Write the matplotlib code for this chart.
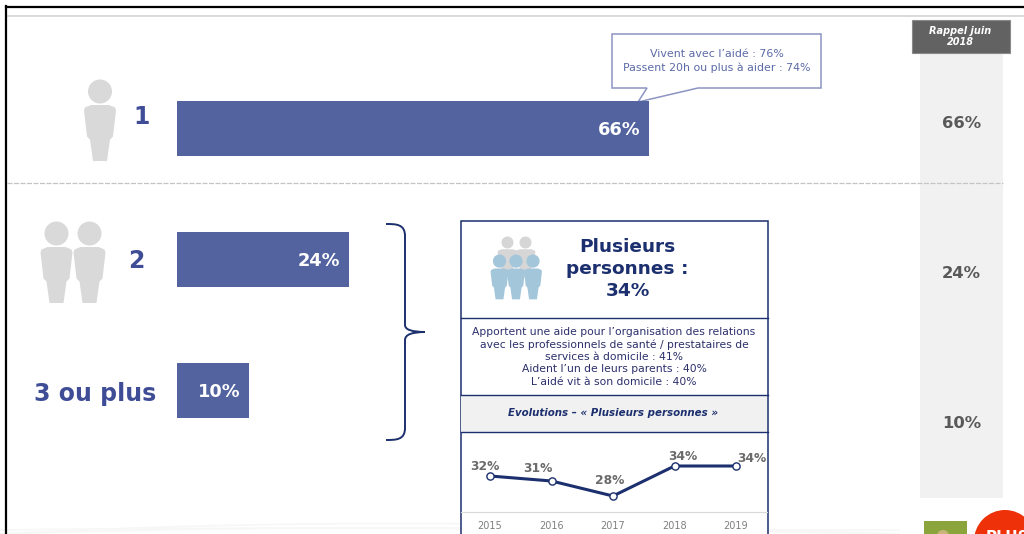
import matplotlib
matplotlib.use("Agg")
import matplotlib.pyplot as plt
from matplotlib.patches import Polygon, Circle, Rectangle, PathPatch
from matplotlib.path import Path

W, H = 1024, 534

# data
groups = ["1", "2", "3 ou plus"]
shares = [66, 24, 10]
rappel = ["66%", "24%", "10%"]
years = [2015, 2016, 2017, 2018, 2019]
evolution = [32, 31, 28, 34, 34]

BLUE = "#5363a0"
LABEL = "#3f4d96"
NAVY = "#1c2f6e"
GREY = "#595959"
ICON = "#d9d9d9"
ICON_BLUE = "#a3c6da"

fig = plt.figure(figsize=(W / 100, H / 100), dpi=100, facecolor="white")

# whole page axes in pixels, y going down
bg = fig.add_axes([0, 0, 1, 1])
bg.set_xlim(0, W)
bg.set_ylim(H, 0)
bg.axis("off")


def sub_axes(left, top, right, bottom):
    return fig.add_axes([left / W, 1 - bottom / H, (right - left) / W, (bottom - top) / H])


def person(ax, cx, top, s=1.0, color=ICON, z=3, sx=None):
    # little figure: head + tapered body, top is the top of the head
    sx = sx or s
    ax.add_patch(Circle((cx, top + 12 * s), 12 * s, fc=color, ec="none", zorder=z))
    body = [(-15, 28), (-9, 25.5), (9, 25.5), (15, 28), (16, 31), (13, 57), (10, 60), (7, 81.5),
            (-7, 81.5), (-10, 60), (-13, 57), (-16, 31)]
    ax.add_patch(Polygon([(cx + x * sx, top + y * s) for x, y in body], closed=True,
                         fc=color, ec="none", zorder=z))


# faint background swooshes at the bottom
for y0, y1 in [(534, 518), (534, 524), (530, 526)]:
    bg.add_patch(PathPatch(Path([(0, y0), (300, y1), (560, y1 + 4), (900, y0)],
                                [Path.MOVETO, Path.CURVE4, Path.CURVE4, Path.CURVE4]),
                           fc="none", ec="#f7f7f7", lw=1.2, zorder=0))

# frame
bg.plot([6, 6], [6, H], color="black", lw=1.6, zorder=5)
bg.plot([6, W], [6.5, 6.5], color="black", lw=1.6, zorder=5)
bg.plot([7, W], [15.5, 15.5], color="#d4d4d4", lw=1.2, zorder=1)

# rappel column
bg.add_patch(Rectangle((920, 53), 83, 445, fc="#f1f1f1", ec="none", zorder=1))
bg.add_patch(Rectangle((911.5, 19.5), 98, 33, fc="#626262", ec="#8a8a8a", lw=0.8, zorder=2))
bg.text(960.5, 36.5, "Rappel juin\n2018", color="white", fontsize=7, fontstyle="italic",
        fontweight="bold", ha="center", va="center", linespacing=1.2, zorder=3)
for lab, y in zip(rappel, [123, 273, 424]):
    bg.text(961.5, y, lab, color=GREY, fontsize=11.8, fontweight="bold", ha="center", va="center", zorder=3)

# dashed separator
bg.plot([7, 1003], [182.5, 182.5], color="#c4c4c4", lw=0.9, ls=(0, (4, 1.2)), zorder=2)

# bars: one percent = 7.15 px, y stays in pixels
bars_ax = sub_axes(177, 0, 177 + 715, H)
bars_ax.set_xlim(0, 100)
bars_ax.set_ylim(H, 0)
bars_ax.axis("off")
bar_y = [128, 259.5, 390]
bars_ax.barh(bar_y, shares, height=55, color=BLUE, edgecolor="none")
for v, y in zip(shares, bar_y):
    bars_ax.annotate(f"{v}%", (v, y), xytext=(-8, -2), textcoords="offset pixels", color="white",
                     fontsize=12.8, fontweight="bold", ha="right", va="center")

# group labels
bg.text(142, 116.5, groups[0], color=LABEL, fontsize=17, fontweight="bold", ha="center", va="center")
bg.text(136.5, 261, groups[1], color=LABEL, fontsize=17, fontweight="bold", ha="center", va="center")
bg.text(95, 394, groups[2], color=LABEL, fontsize=17, fontweight="bold", ha="center", va="center")

# people
person(bg, 100, 79.5)
person(bg, 56.5, 221.5)
person(bg, 89.5, 221.5)

# callout
bg.add_patch(Polygon([(612, 34), (821, 34), (821, 88), (698, 88), (638, 102), (647, 88), (612, 88)],
                     closed=True, fc="white", ec="#8c94c2", lw=1.1, zorder=4))
bg.text(717, 54, "Vivent avec l’aidé : 76%", color="#5b6aa6", fontsize=7.95, ha="center", va="center", zorder=5)
bg.text(717, 68, "Passent 20h ou plus à aider : 74%", color="#5b6aa6", fontsize=7.95, ha="center", va="center", zorder=5)

# brace
brace = Path([(386, 224), (396, 224), (405, 224), (405, 236), (405, 325), (405, 332), (425, 332),
              (405, 332), (405, 340), (405, 428), (405, 440), (396, 440), (386, 440)],
             [Path.MOVETO, Path.CURVE4, Path.CURVE4, Path.CURVE4, Path.LINETO, Path.CURVE3, Path.CURVE3,
              Path.CURVE3, Path.CURVE3, Path.LINETO, Path.CURVE4, Path.CURVE4, Path.CURVE4])
bg.add_patch(PathPatch(brace, fc="none", ec=NAVY, lw=1.4, zorder=3))

# panel
bg.add_patch(Rectangle((460.5, 221), 307, 320, fc="white", ec=NAVY, lw=1.1, zorder=2))
bg.add_patch(Rectangle((461, 394.5), 306, 38, fc="#f1f1f1", ec="none", zorder=3))
for y in [318, 394.5, 432]:
    bg.plot([460.5, 767.5], [y, y], color=NAVY, lw=1.0, zorder=4)

for cx in [507.5, 525.5]:
    person(bg, cx, 236.5, s=0.5, color="#d6d6d6", z=3, sx=0.62)
for cx in [499.5, 516, 533]:
    person(bg, cx, 254.5, s=0.55, color=ICON_BLUE, z=4, sx=0.56)

bg.text(627.5, 269, "Plusieurs\npersonnes :\n34%", color=NAVY, fontsize=13.3, fontweight="bold",
        ha="center", va="center", linespacing=1.3, zorder=5)
bg.text(614, 357, "Apportent une aide pour l’organisation des relations\n"
                  "avec les professionnels de santé / prestataires de\n"
                  "services à domicile : 41%\n"
                  "Aident l’un de leurs parents : 40%\n"
                  "L’aidé vit à son domicile : 40%",
        color="#2b2f6b", fontsize=7.75, ha="center", va="center", linespacing=1.27, zorder=5)
bg.text(613.5, 413.5, "Evolutions – « Plusieurs personnes »", color=NAVY, fontsize=7.4,
        fontstyle="italic", fontweight="bold", ha="center", va="center", zorder=5)

# small line chart
line_ax = sub_axes(461, 433, 767, 512)
line_ax.patch.set_alpha(0)
line_ax.set_xlim(2015 - 29 / 61.5, 2019 + 31 / 61.5)
line_ax.set_ylim(24.8, 40.6)
line_ax.plot(years, evolution, color=NAVY, lw=2.2, marker="o", ms=5.2, mfc="white", mec=NAVY, mew=1.0)
offsets = [(-5, 10), (-14, 13), (-3, 15), (8, 9), (16, 8)]
for yr, v, off in zip(years, evolution, offsets):
    line_ax.annotate(f"{v}%", (yr, v), xytext=off, textcoords="offset pixels", color="#6b6b6b",
                     fontsize=8.8, fontweight="bold", ha="center", va="center")
for s in ["top", "left", "right"]:
    line_ax.spines[s].set_visible(False)
line_ax.spines["bottom"].set_color("#d9d9d9")
line_ax.set_yticks([])
line_ax.set_xticks(years)
line_ax.tick_params(axis="x", length=0, labelsize=7, labelcolor="#7f7f7f", pad=6.5)

# logos cut by the bottom edge
bg.add_patch(Rectangle((923.5, 521), 43, 20, fc="#8ba53c", ec="none", zorder=3))
bg.add_patch(Circle((943, 536), 6, fc="#c9b57a", ec="none", zorder=4))
bg.add_patch(Circle((1005, 541), 31, fc="#ee3108", ec="none", zorder=3))
bg.text(1007, 530, "PLUS", color="white", fontsize=11, fontweight="bold", ha="center", va="top",
        zorder=4, clip_on=True)

fig.savefig("out.png", dpi=100)
